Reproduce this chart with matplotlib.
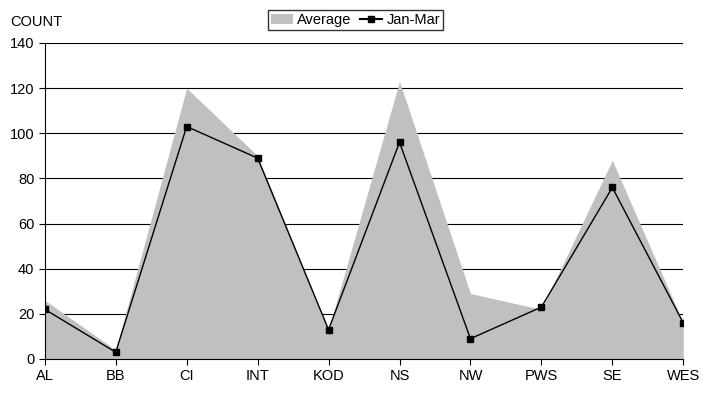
import matplotlib.pyplot as plt
from matplotlib.patches import Patch
from matplotlib.lines import Line2D

regions = ["AL", "BB", "CI", "INT", "KOD", "NS", "NW", "PWS", "SE", "WES"]
average = [26, 4, 120, 90, 13, 123, 29, 22, 88, 16]
jan_mar = [22, 3, 103, 89, 13, 96, 9, 23, 76, 16]

plt.rcParams['font.family'] = ['Liberation Sans', 'DejaVu Sans']

fig = plt.figure(figsize=(7.11, 4.0), dpi=100)
ax = fig.add_axes([0.063, 0.1025, 0.898, 0.79])

x = range(len(regions))
ax.fill_between(x, average, color="#c0c0c0", linewidth=0, zorder=2)
ax.plot(x, jan_mar, color="black", linewidth=1, marker="s", markersize=5, zorder=3)

ax.set_xlim(0, len(regions) - 1)
ax.set_ylim(0, 140)
ax.set_yticks(range(0, 141, 20))
ax.set_xticks(list(x))
ax.set_xticklabels(regions)
ax.yaxis.grid(True, color="black", linewidth=0.8, zorder=1)
ax.set_axisbelow(True)
for s in ["top", "right"]:
    ax.spines[s].set_visible(False)
ax.tick_params(labelsize=10.5, length=4)

fig.text(0.014, 0.945, "COUNT", fontsize=10.5, va="center")

handles = [Patch(facecolor="#c0c0c0", edgecolor="none"),
           Line2D([], [], color="black", marker="s", markersize=5)]
fig.legend(handles, ["Average", "Jan-Mar"], loc="center", bbox_to_anchor=(0.5, 0.95),
           ncol=2, frameon=True, fancybox=False, edgecolor="black", fontsize=10.5,
           handlelength=1.5, handletextpad=0.3, columnspacing=0.6, borderpad=0.2)

fig.savefig("out.png", dpi=100)
